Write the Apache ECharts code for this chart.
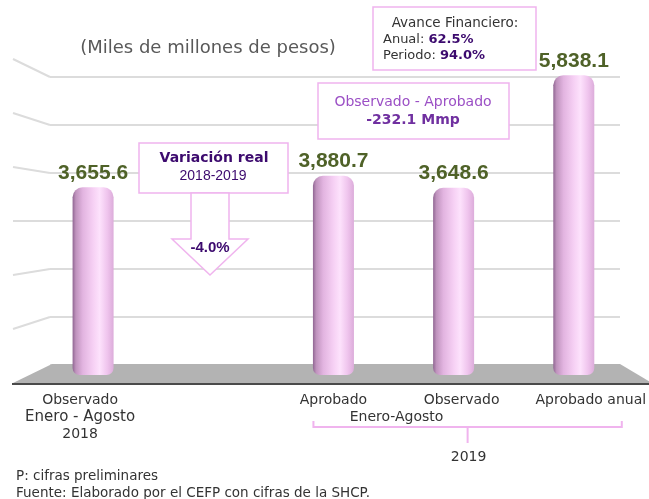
<!DOCTYPE html>
<html>
<head>
<meta charset="utf-8">
<script src="https://cdn.jsdelivr.net/npm/echarts@6/dist/echarts.min.js"></script>
<style>
  html, body { margin: 0; padding: 0; background: #fff; }
  #chart { width: 649px; height: 499px; }
</style>
</head>
<body>
<div id="chart"></div>
<script>
// data
var categories = ['Observado\nEnero - Agosto\n2018', '', 'Aprobado', 'Observado', 'Aprobado anual'];
var values = [3655.6, null, 3880.7, 3648.6, 5838.1];
var yMax = 6000;
var yStep = 1000;
var titleText = '(Miles de millones de pesos)';
var avanceAnual = '62.5%';
var avancePeriodo = '94.0%';
var difText = '-232.1 Mmp';
var variacion = '-4.0%';
var periodo2019 = 'Enero-Agosto';
var anio2019 = '2019';
var notes = ['P: cifras preliminares', 'Fuente: Elaborado por el CEFP con cifras de la SHCP.'];

var FONT = '"DejaVu Sans", sans-serif';
var NUMFONT = '"Liberation Sans Narrow", "Liberation Sans", sans-serif';
var PINK = '#f0b4ee';
var PURPLE = '#3c0a6e';

var chartDom = document.getElementById('chart');
var myChart = echarts.init(chartDom);

// shift of each x label from the bar centre (px)
var labelShift = [-13, 0, 0, 8, 17];

function fmt(v) {
  return v.toLocaleString('en-US', { minimumFractionDigits: 1, maximumFractionDigits: 1 });
}

var option = {
  animation: false,
  backgroundColor: '#fff',
  grid: [
    { left: 33, right: 14, top: 67, bottom: 124 },   // bars
    { left: 50, right: 29, top: 77, bottom: 134 }    // back wall
  ],
  xAxis: [
    {
      type: 'category',
      gridIndex: 0,
      data: categories,
      axisLine: { show: false },
      axisTick: { show: false },
      axisLabel: {
        interval: 0,
        margin: 17,
        color: '#333',
        fontFamily: FONT,
        fontSize: 14,
        formatter: function (val, idx) {
          if (!val) return '';
          var s = labelShift[idx] || 0;
          var key = s < 0 ? 'l' : (s > 0 ? 'r' + s : 'n');
          var lines = val.split('\n');
          return lines.map(function (ln, i) {
            var k = (lines.length > 1 && i === 1) ? key + 'b' : key;
            return '{' + k + '|' + ln + '}';
          }).join('\n');
        },
        rich: {
          n: { fontFamily: FONT, fontSize: 14, color: '#333', lineHeight: 17 },
          l: { fontFamily: FONT, fontSize: 14, color: '#333', lineHeight: 17, padding: [0, 26, 0, 0] },
          lb: { fontFamily: FONT, fontSize: 15, color: '#333', lineHeight: 17, padding: [0, 26, 0, 0] },
          r8: { fontFamily: FONT, fontSize: 14, color: '#333', lineHeight: 17, padding: [0, 0, 0, 16] },
          r17: { fontFamily: FONT, fontSize: 14, color: '#333', lineHeight: 17, padding: [0, 0, 0, 34] }
        }
      }
    },
    { type: 'value', gridIndex: 1, show: false, min: 0, max: 1 }
  ],
  yAxis: [
    { type: 'value', gridIndex: 0, min: 0, max: yMax, show: false },
    {
      type: 'value', gridIndex: 1, min: 0, max: yMax, interval: yStep,
      axisLine: { show: false }, axisTick: { show: false }, axisLabel: { show: false },
      splitLine: { lineStyle: { color: '#dcdcdc', width: 2 } }
    }
  ],
  series: [
    {
      type: 'bar',
      xAxisIndex: 0,
      yAxisIndex: 0,
      data: values,
      barWidth: 41,
      z: 5,
      itemStyle: {
        borderRadius: [10, 10, 7, 7],
        color: new echarts.graphic.LinearGradient(0, 0, 1, 0, [
          { offset: 0, color: '#906692' },
          { offset: 0.08, color: '#bf93bd' },
          { offset: 0.25, color: '#e2b4e0' },
          { offset: 0.5, color: '#f6d0f4' },
          { offset: 0.66, color: '#fde2fc' },
          { offset: 0.85, color: '#efc4ed' },
          { offset: 1, color: '#dcacda' }
        ])
      },
      label: {
        show: true,
        position: 'top',
        distance: 4,
        color: '#4f6228',
        fontFamily: NUMFONT,
        fontWeight: 'bold',
        fontSize: 21,
        formatter: function (p) { return fmt(p.value); }
      }
    }
  ]
};
myChart.setOption(option);

// decorations placed from the axes
var wy = function (v) { return myChart.convertToPixel({ yAxisIndex: 1 }, v); };
var bx = function (i) { return myChart.convertToPixel({ xAxisIndex: 0 }, i); };
var wallLeft = 50;
var yMid = wy(yMax / 2);
var y0 = wy(0);

var g = [];
// perspective side lines
for (var v = yStep; v <= yMax; v += yStep) {
  var y = wy(v);
  g.push({
    type: 'line', z: 1,
    shape: { x1: 13, y1: yMid + (y - yMid) * 1.125, x2: wallLeft, y2: y },
    style: { stroke: '#dcdcdc', lineWidth: 2 }
  });
}
// floor
g.push({
  type: 'polygon', z: 2,
  shape: { points: [[wallLeft + 2, y0 - 1], [620, y0 - 1], [652, y0 + 18], [13, y0 + 18]] },
  style: { fill: '#b3b3b3' }
});
g.push({
  type: 'line', z: 2,
  shape: { x1: 12, y1: y0 + 19, x2: 649, y2: y0 + 19 },
  style: { stroke: '#4a4a4a', lineWidth: 2 }
});

// title
g.push({ type: 'text', z: 10, style: { text: titleText, x: 208, y: 48, textAlign: 'center', textVerticalAlign: 'middle', fontFamily: FONT, fontSize: 18, fill: '#595959' } });

// avance financiero box
g.push({ type: 'rect', z: 10, shape: { x: 373, y: 7, width: 163, height: 63 }, style: { fill: '#fff', stroke: PINK, lineWidth: 1.5 } });
g.push({ type: 'text', z: 11, style: { text: 'Avance Financiero:', x: 455, y: 23, textAlign: 'center', textVerticalAlign: 'middle', fontFamily: FONT, fontSize: 13.5, fill: '#333' } });
g.push({ type: 'text', z: 11, style: {
  text: 'Anual: {v|' + avanceAnual + '}', x: 383, y: 40, textAlign: 'left', textVerticalAlign: 'middle', fontFamily: FONT, fontSize: 13, fill: '#333',
  rich: { v: { fontFamily: FONT, fontSize: 13, fontWeight: 'bold', fill: PURPLE, color: PURPLE } } } });
g.push({ type: 'text', z: 11, style: {
  text: 'Periodo: {v|' + avancePeriodo + '}', x: 383, y: 56, textAlign: 'left', textVerticalAlign: 'middle', fontFamily: FONT, fontSize: 13, fill: '#333',
  rich: { v: { fontFamily: FONT, fontSize: 13, fontWeight: 'bold', fill: PURPLE, color: PURPLE } } } });

// observado - aprobado box
g.push({ type: 'rect', z: 10, shape: { x: 318, y: 83, width: 191, height: 56 }, style: { fill: '#fff', stroke: PINK, lineWidth: 1.5 } });
g.push({ type: 'text', z: 11, style: { text: 'Observado - Aprobado', x: 413, y: 102, textAlign: 'center', textVerticalAlign: 'middle', fontFamily: FONT, fontSize: 14, fill: '#9b4fc5' } });
g.push({ type: 'text', z: 11, style: { text: difText, x: 413, y: 120, textAlign: 'center', textVerticalAlign: 'middle', fontFamily: FONT, fontSize: 14, fontWeight: 'bold', fill: '#7030a0' } });

// variacion real box + arrow
g.push({ type: 'rect', z: 10, shape: { x: 139, y: 143, width: 149, height: 50 }, style: { fill: '#fff', stroke: PINK, lineWidth: 1.5 } });
g.push({ type: 'polygon', z: 10, shape: { points: [[191, 193], [229, 193], [229, 239], [248, 239], [210, 275], [172, 239], [191, 239]] }, style: { fill: '#fff', stroke: PINK, lineWidth: 1.5 } });
g.push({ type: 'text', z: 11, style: { text: 'Variación real', x: 214, y: 158, textAlign: 'center', textVerticalAlign: 'middle', fontFamily: FONT, fontSize: 14, fontWeight: 'bold', fill: PURPLE } });
g.push({ type: 'text', z: 11, style: { text: '2018-2019', x: 213, y: 176, textAlign: 'center', textVerticalAlign: 'middle', fontFamily: NUMFONT, fontSize: 14, fill: PURPLE } });
g.push({ type: 'text', z: 11, style: { text: variacion, x: 210, y: 248, textAlign: 'center', textVerticalAlign: 'middle', fontFamily: NUMFONT, fontSize: 15, fontWeight: 'bold', fill: PURPLE } });

// 2019 bracket
var bL = bx(2) - 20, bR = bx(4) + 48, bC = (bL + bR) / 2, bY = 427;
g.push({ type: 'polyline', z: 10, shape: { points: [[bL, bY - 6], [bL, bY], [bR, bY], [bR, bY - 6]] }, style: { stroke: PINK, lineWidth: 2, fill: null } });
g.push({ type: 'line', z: 10, shape: { x1: bC, y1: bY, x2: bC, y2: bY + 16 }, style: { stroke: PINK, lineWidth: 2 } });
g.push({ type: 'text', z: 11, style: { text: periodo2019, x: (bx(2) + bx(3)) / 2 + 3, y: 417, textAlign: 'center', textVerticalAlign: 'middle', fontFamily: FONT, fontSize: 14, fill: '#333' } });
g.push({ type: 'text', z: 11, style: { text: anio2019, x: bC + 1, y: 457, textAlign: 'center', textVerticalAlign: 'middle', fontFamily: FONT, fontSize: 14, fill: '#333' } });

// notes
notes.forEach(function (t, i) {
  g.push({ type: 'text', z: 11, style: { text: t, x: 16, y: 476 + i * 17, textAlign: 'left', textVerticalAlign: 'middle', fontFamily: FONT, fontSize: 13.5, fill: '#333' } });
});

myChart.setOption({ graphic: g });
</script>
</body>
</html>
